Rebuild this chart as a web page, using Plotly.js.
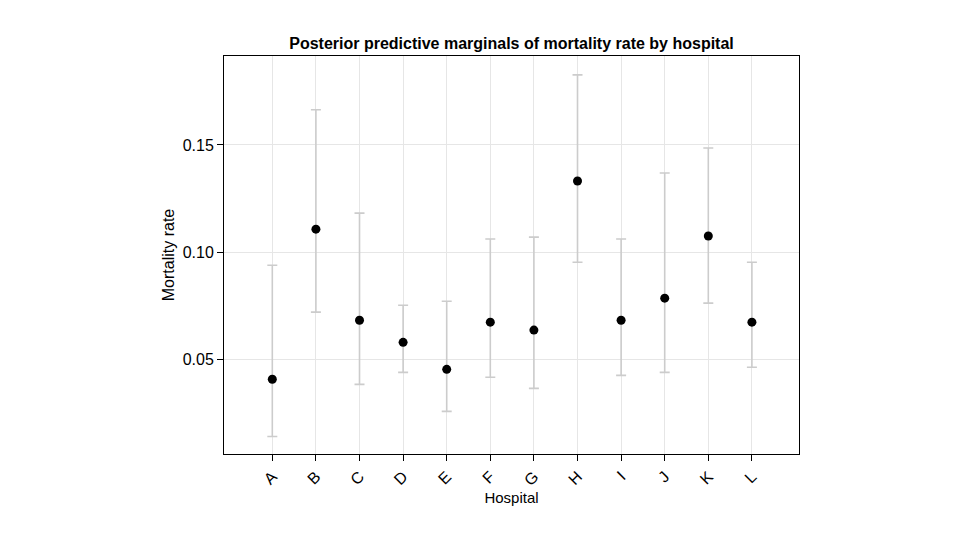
<!DOCTYPE html>
<html>
<head>
<meta charset="utf-8">
<script src="https://cdn.plot.ly/plotly-3.0.1.min.js"></script>
<style>html,body{margin:0;padding:0;background:#fff;}#chart{width:960px;height:540px;}</style>
</head>
<body>
<div id="chart"></div>
<script>
const hospitals = ["A","B","C","D","E","F","G","H","I","J","K","L"];
const meanRate  = [0.0407,0.1107,0.0682,0.0579,0.0453,0.0673,0.0636,0.1332,0.0682,0.0785,0.1075,0.0673];
const lowerRate = [0.0140,0.0720,0.0383,0.0439,0.0257,0.0416,0.0364,0.0953,0.0425,0.0439,0.0762,0.0463];
const upperRate = [0.0939,0.1664,0.1182,0.0752,0.0771,0.1061,0.1070,0.1827,0.1061,0.1369,0.1486,0.0953];
const yTicks = [0.05,0.10,0.15];
const yTickText = ["0.05","0.10","0.15"];

const plus = upperRate.map((u,i)=>u-meanRate[i]);
const minus = meanRate.map((m,i)=>m-lowerRate[i]);

const trace = {
  type: "scatter",
  mode: "markers",
  x: hospitals,
  y: meanRate,
  marker: {color: "#000000", size: 9},
  error_y: {type: "data", symmetric: false, array: plus, arrayminus: minus,
            color: "#cccccc", thickness: 1.6, width: 5},
  hoverinfo: "x+y"
};

const font = "Liberation Sans, Arial, Helvetica, sans-serif";
const layout = {
  width: 960, height: 540,
  margin: {l: 224, r: 161, t: 56, b: 86},
  paper_bgcolor: "#ffffff", plot_bgcolor: "#ffffff",
  showlegend: false,
  font: {family: font, size: 15, color: "#000"},
  title: {text: "<b>Posterior predictive marginals of mortality rate by hospital</b>",
          font: {family: font, size: 16, color: "#000"},
          x: 0.5328, xanchor: "center", y: 0.92, yanchor: "middle"},
  xaxis: {
    type: "category",
    range: [-1.108, 12.08],
    tickangle: -45,
    ticks: "outside", ticklen: 6, tickcolor: "#000", tickwidth: 1,
    showline: true, linecolor: "#000", linewidth: 1, mirror: true,
    showgrid: true, gridcolor: "#e6e6e6", gridwidth: 1,
    zeroline: false,
    tickfont: {family: font, size: 16},
    title: {text: "Hospital", font: {family: font, size: 15}, standoff: 3}
  },
  yaxis: {
    range: [0.0058, 0.1915],
    tickvals: yTicks, ticktext: yTickText,
    ticks: "outside", ticklen: 6, tickcolor: "#000", tickwidth: 1,
    showline: true, linecolor: "#000", linewidth: 1, mirror: true,
    showgrid: true, gridcolor: "#e6e6e6", gridwidth: 1,
    zeroline: false,
    tickfont: {family: font, size: 16},
    title: {text: "Mortality rate", font: {family: font, size: 16}, standoff: 4}
  }
};

Plotly.newPlot("chart", [trace], layout, {displayModeBar: false, staticPlot: true});
</script>
</body>
</html>
